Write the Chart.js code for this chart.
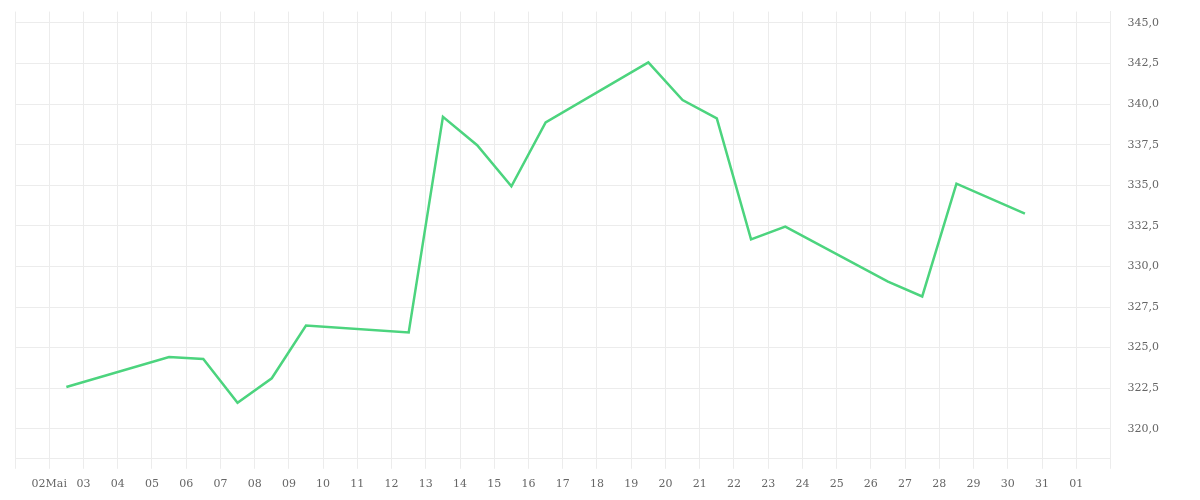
<!DOCTYPE html>
<html>
<head>
<meta charset="utf-8">
<script src="https://cdn.jsdelivr.net/npm/chart.js@4/dist/chart.umd.min.js"></script>
<style>
  html, body { margin: 0; padding: 0; background: #fff; }
  #wrap { width: 1200px; height: 500px; position: relative; }
</style>
</head>
<body>
<div id="wrap"><canvas id="kurs"></canvas></div>
<script>
// Handelstage im Mai 2025 (Tag des Monats) und Schlusskurse
var tradeDays = [2, 5, 6, 7, 8, 9, 12, 13, 14, 15, 16, 19, 20, 21, 22, 23, 26, 27, 28, 30];
var closes = [322.57, 324.42, 324.30, 321.60, 323.11, 326.36, 325.93, 339.22, 337.47, 334.94,
              338.87, 342.57, 340.25, 339.12, 331.67, 332.45, 329.07, 328.15, 335.10, 333.25];

// Achsenbeschriftung: Tage 1 Mai .. 2 Juni
var tickLabels = ['', '02Mai', '03', '04', '05', '06', '07', '08', '09', '10', '11', '12',
                  '13', '14', '15', '16', '17', '18', '19', '20', '21', '22', '23', '24',
                  '25', '26', '27', '28', '29', '30', '31', '01', ''];

var fontFamily = '"DejaVu Serif", serif';
var gridColor = '#ececec';

// Kurse liegen jeweils auf Tagesmitte
var points = tradeDays.map(function(d, i) {
  return { x: d + 0.5, y: closes[i] };
});

var ctx = document.getElementById('kurs');
new Chart(ctx.getContext('2d'), {
  type: 'line',
  data: {
    datasets: [{
      data: points,
      borderColor: '#4cd47e',
      borderWidth: 2.5,
      pointRadius: 0,
      tension: 0,
      fill: false
    }]
  },
  options: {
    responsive: true,
    maintainAspectRatio: false,
    animation: false,
    layout: { padding: { left: 15, top: 0, right: 36, bottom: 0 } },
    plugins: {
      legend: { display: false },
      tooltip: { enabled: false }
    },
    scales: {
      x: {
        type: 'linear',
        min: 1,
        max: 33,
        grid: { color: gridColor, tickLength: 10 },
        border: { color: gridColor },
        ticks: {
          stepSize: 1,
          autoSkip: false,
          maxRotation: 0,
          padding: 9,
          color: '#666',
          font: { family: fontFamily, size: 11 },
          callback: function(value) {
            return tickLabels[value - 1];
          }
        }
      },
      y: {
        position: 'right',
        min: 318.15,
        max: 345.7,
        grid: { color: gridColor, tickLength: 12, tickColor: 'rgba(0,0,0,0)' },
        border: { color: gridColor },
        afterBuildTicks: function(axis) {
          var t = [];
          for (var v = 320; v <= 345; v += 2.5) t.push({ value: v });
          axis.ticks = t;
        },
        ticks: {
          padding: 5,
          color: '#666',
          font: { family: fontFamily, size: 11 },
          callback: function(value) {
            return value.toFixed(1).replace('.', ',');
          }
        }
      }
    }
  }
});
</script>
</body>
</html>
